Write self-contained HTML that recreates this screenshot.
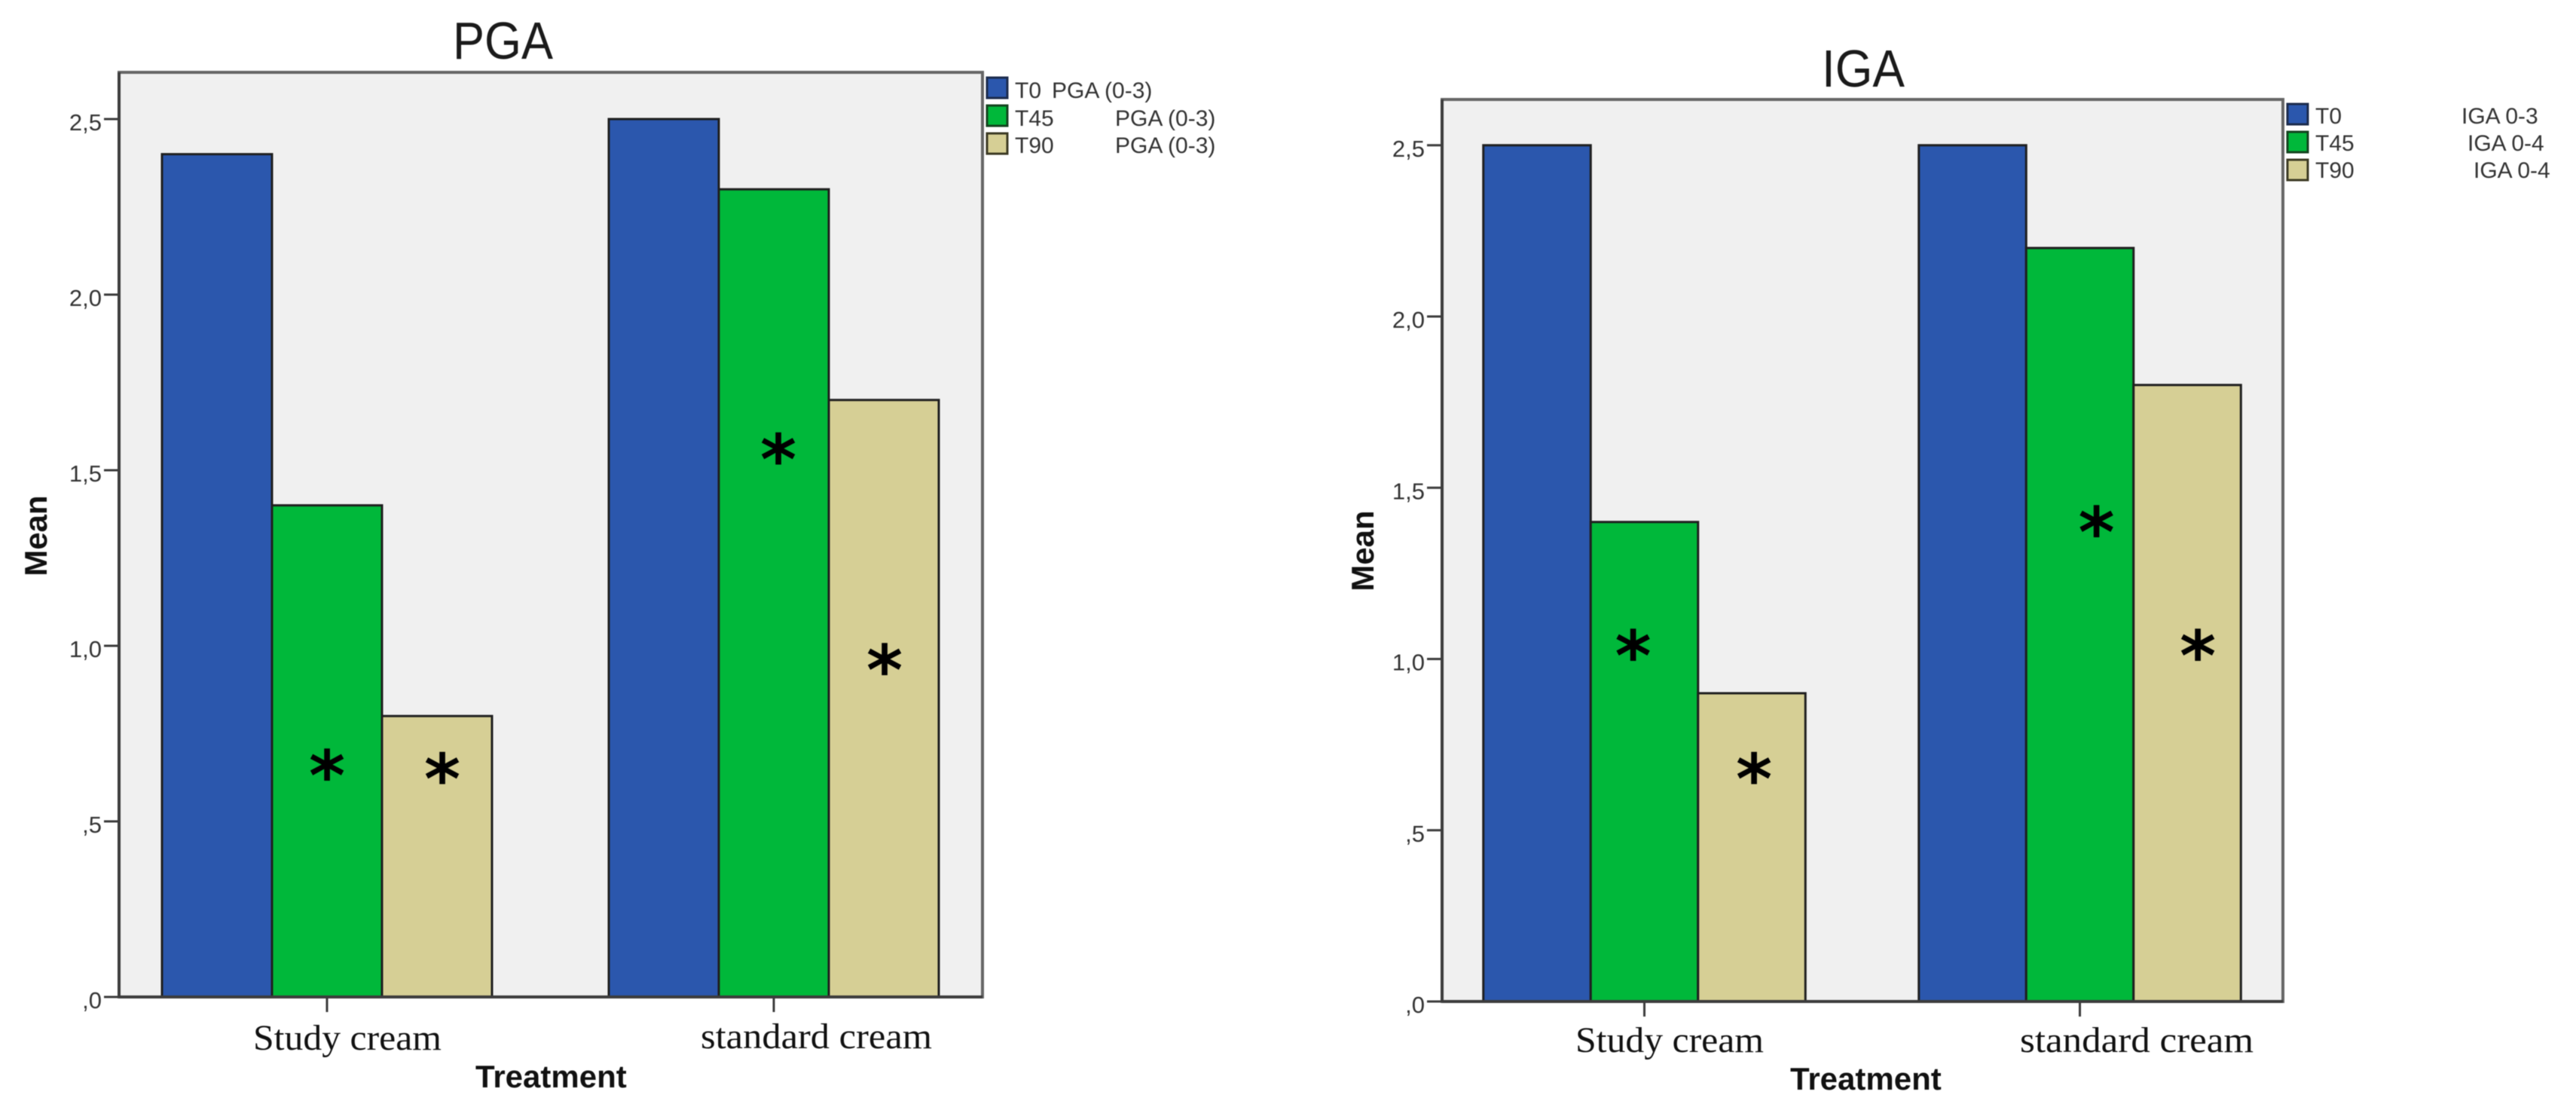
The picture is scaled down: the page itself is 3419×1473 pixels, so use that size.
<!DOCTYPE html>
<html lang="en">
<head>
<meta charset="utf-8">
<title>PGA and IGA mean scores by treatment</title>
<style>
html,body{margin:0;padding:0;background:#fff;width:3419px;height:1473px;overflow:hidden}
svg{display:block;filter:blur(0.6px)}
.title{font-family:"Liberation Sans",sans-serif;font-size:70px;font-weight:normal;fill:#1a1a1a}
.tick{font-family:"Liberation Sans",sans-serif;font-size:31px;fill:#333;text-anchor:end}
.axis-title{font-family:"Liberation Sans",sans-serif;font-size:42px;font-weight:bold;fill:#111}
.cat{font-family:"Liberation Serif",serif;font-size:48px;fill:#111}
.legend{font-family:"Liberation Sans",sans-serif;font-size:30px;fill:#333}
.star{font-family:"DejaVu Sans",sans-serif;font-size:92px;font-weight:bold;fill:#000;text-anchor:middle}
</style>
</head>
<body>
<svg id="figure" width="3419" height="1473" viewBox="0 0 3419 1473" xmlns="http://www.w3.org/2000/svg">
  <rect x="0" y="0" width="3419" height="1473" fill="#ffffff"/>

  <g id="chart-pga">
    <text class="title" x="601" y="78" textLength="133" lengthAdjust="spacingAndGlyphs">PGA</text>
    <rect x="158" y="96" width="1146" height="1227" fill="#f0f0f0" stroke="#666" stroke-width="4"/>
    <text class="axis-title" transform="translate(62,711) rotate(-90)" text-anchor="middle">Mean</text>
    <text class="axis-title" x="631" y="1443">Treatment</text>
    <text class="cat" x="336" y="1393" textLength="250" lengthAdjust="spacingAndGlyphs">Study cream</text>
    <text class="cat" x="930" y="1391" textLength="307" lengthAdjust="spacingAndGlyphs">standard cream</text>
    <g>
      <g>
        <rect x="1310" y="103" width="27" height="27" fill="#2b57ad" stroke="#1c2b4c" stroke-width="3"/>
        <text class="legend" x="1347" y="130">T0</text>
        <text class="legend" x="1396" y="130">PGA (0-3)</text>
      </g>
      <g>
        <rect x="1310" y="140" width="27" height="27" fill="#00b83a" stroke="#14431f" stroke-width="3"/>
        <text class="legend" x="1347" y="167">T45</text>
        <text class="legend" x="1480" y="167">PGA (0-3)</text>
      </g>
      <g>
        <rect x="1310" y="177" width="27" height="27" fill="#d6cf95" stroke="#3c3a24" stroke-width="3"/>
        <text class="legend" x="1347" y="203">T90</text>
        <text class="legend" x="1480" y="203">PGA (0-3)</text>
      </g>
    </g>
  </g>

  <g id="chart-iga">
    <text class="title" x="2418" y="115" textLength="110" lengthAdjust="spacingAndGlyphs">IGA</text>
    <rect x="1914" y="132" width="1116" height="1197" fill="#f0f0f0" stroke="#666" stroke-width="4"/>
    <text class="axis-title" transform="translate(1823,731) rotate(-90)" text-anchor="middle">Mean</text>
    <text class="axis-title" x="2376" y="1446">Treatment</text>
    <text class="cat" x="2091" y="1396" textLength="250" lengthAdjust="spacingAndGlyphs">Study cream</text>
    <text class="cat" x="2681" y="1396" textLength="310" lengthAdjust="spacingAndGlyphs">standard cream</text>
    <g>
      <g>
        <rect x="3036" y="138" width="27" height="27" fill="#2b57ad" stroke="#1c2b4c" stroke-width="3"/>
        <text class="legend" x="3073" y="164">T0</text>
        <text class="legend" x="3267" y="164">IGA 0-3</text>
      </g>
      <g>
        <rect x="3036" y="175" width="27" height="27" fill="#00b83a" stroke="#14431f" stroke-width="3"/>
        <text class="legend" x="3073" y="200">T45</text>
        <text class="legend" x="3275" y="200">IGA 0-4</text>
      </g>
      <g>
        <rect x="3036" y="212" width="27" height="27" fill="#d6cf95" stroke="#3c3a24" stroke-width="3"/>
        <text class="legend" x="3073" y="236">T90</text>
        <text class="legend" x="3283" y="236">IGA 0-4</text>
      </g>
    </g>
  </g>
</svg>

<script>
const categoryKeys = ['study-cream', 'standard-cream'];
const seriesKeys = ['t0', 't45', 't90'];
const yTickValues = [0, 0.5, 1, 1.5, 2, 2.5];
const yTickLabels = [',0', ',5', '1,0', '1,5', '2,0', '2,5'];

const pgaT0 = [2.4, 2.5];
const pgaT45 = [1.4, 2.3];
const pgaT90 = [0.8, 1.7];
const pgaStarsT45 = [0.66, 1.56];
const pgaStarsT90 = [0.65, 0.96];

const igaT0 = [2.5, 2.5];
const igaT45 = [1.4, 2.2];
const igaT90 = [0.9, 1.8];
const igaStarsT45 = [1.04, 1.4];
const igaStarsT90 = [0.68, 1.04];

const seriesFill = ['#2b57ad', '#00b83a', '#d6cf95'];
const SVG_NS = 'http://www.w3.org/2000/svg';

function make(parent, tag, attrs, text) {
  const node = document.createElementNS(SVG_NS, tag);
  for (const key in attrs) node.setAttribute(key, attrs[key]);
  if (text !== undefined) node.textContent = text;
  parent.appendChild(node);
  return node;
}

function drawChart(prefix, rootId, layout, series, stars) {
  const root = document.getElementById(rootId);
  const yPos = v => layout.baseY - v * layout.pxPerUnit;
  const xCenter = c => layout.firstCenter + c * layout.step;
  const barLeft = (c, s) => xCenter(c) + (s - 1.5) * layout.barWidth;

  series.forEach((values, s) => {
    values.forEach((v, c) => {
      const bar = make(root, 'rect', {
        x: barLeft(c, s),
        y: yPos(v),
        width: layout.barWidth,
        height: layout.baseY - yPos(v),
        fill: seriesFill[s],
        stroke: '#1f1f1f',
        'stroke-width': 3
      });
      
      
    });
  });

  stars.forEach((values, k) => {
    values.forEach((v, c) => {
      const cx = barLeft(c, k + 1) + layout.barWidth / 2 + layout.starShift[k][c];
      const star = make(root, 'text', { class: 'star', x: cx, y: yPos(v) + 46 }, '*');
      
      
    });
  });

  const axisY = make(root, 'line', {
    x1: layout.plotLeft, x2: layout.plotLeft,
    y1: layout.plotTop, y2: layout.baseY,
    stroke: '#3c3c3c', 'stroke-width': 4
  });
  
  

  const axisX = make(root, 'line', {
    x1: layout.plotLeft, x2: layout.plotRight,
    y1: layout.baseY, y2: layout.baseY,
    stroke: '#3c3c3c', 'stroke-width': 4
  });
  
  

  yTickValues.forEach((v, i) => {
    const tick = make(root, 'line', {
      x1: layout.plotLeft - 20, x2: layout.plotLeft,
      y1: yPos(v), y2: yPos(v),
      stroke: '#3c3c3c', 'stroke-width': 3
    });
    
    
    const label = make(root, 'text', { class: 'tick', x: layout.plotLeft - 23, y: yPos(v) + 15 }, yTickLabels[i]);
    
    
  });

  categoryKeys.forEach((key, c) => {
    const tick = make(root, 'line', {
      x1: xCenter(c), x2: xCenter(c),
      y1: layout.baseY, y2: layout.baseY + 20,
      stroke: '#3c3c3c', 'stroke-width': 3
    });
    
    
  });
}

drawChart('pga', 'chart-pga', {
  baseY: 1323, pxPerUnit: 466, plotLeft: 158, plotRight: 1304, plotTop: 96,
  firstCenter: 434, step: 593, barWidth: 146,
  starShift: [[0, 6], [7, 1]]
}, [pgaT0, pgaT45, pgaT90], [pgaStarsT45, pgaStarsT90]);

drawChart('iga', 'chart-iga', {
  baseY: 1329, pxPerUnit: 454.5, plotLeft: 1914, plotRight: 3030, plotTop: 132,
  firstCenter: 2182.5, step: 578, barWidth: 142.5,
  starShift: [[-15, 22], [3, 14]]
}, [igaT0, igaT45, igaT90], [igaStarsT45, igaStarsT90]);
</script>
</body>
</html>
